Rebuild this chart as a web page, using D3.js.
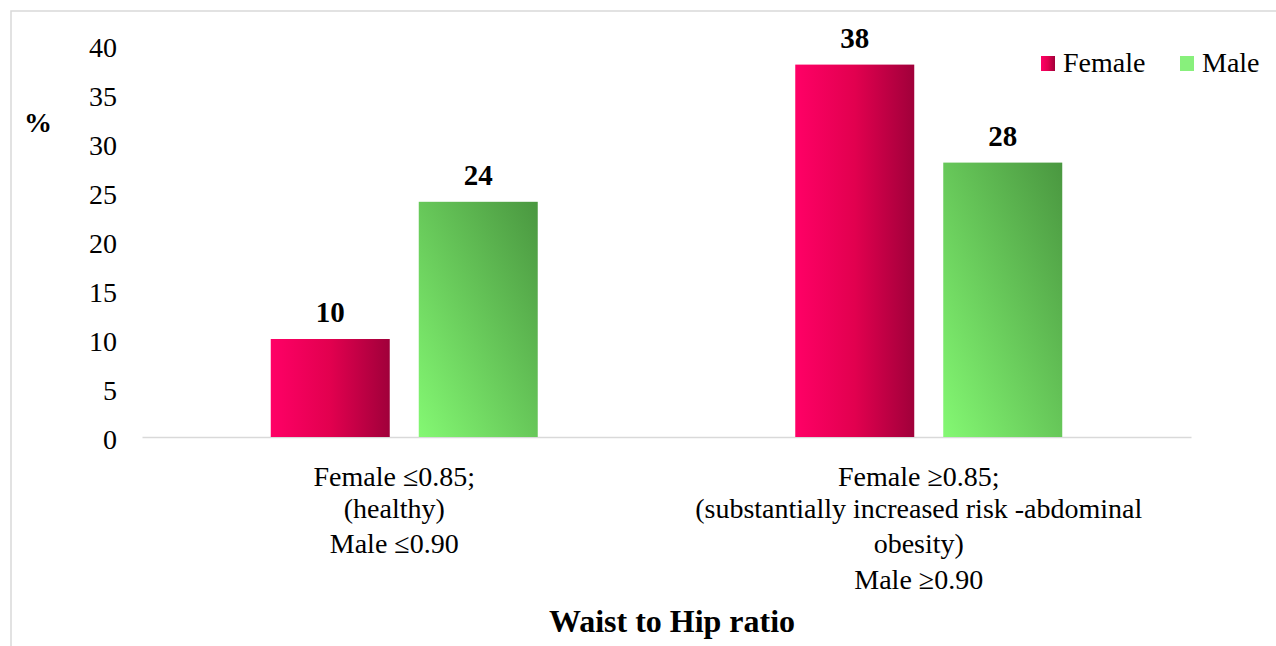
<html><head>
  <script src="https://d3js.org/d3.v7.min.js"></script>
  <style>
    body { margin: 0; background: white; }
    text { font-family: 'Liberation Serif', 'Times New Roman', serif; fill: black; }
    .axis path, .axis line { stroke: #d9d9d9; stroke-width: 1.5; }
    .axis text { font-size: 28px; }
  </style>
</head>
<body>
  <script>
    // data
    const categories = ["healthy", "risk"];
    const categoryLabels = [
      ["Female \u22640.85;", "(healthy)", "Male \u22640.90"],
      ["Female \u22650.85;", "(substantially increased risk -abdominal", "obesity)", "Male \u22650.90"]
    ];
    const series = ["Female", "Male"];
    const femaleValues = [10, 38];
    const maleValues = [24, 28];
    const yTicks = [0, 5, 10, 15, 20, 25, 30, 35, 40];

    const width = 1276, height = 646;
    const svg = d3.select("body").append("svg")
                  .attr("width", width)
                  .attr("height", height);

    // gradients
    const defs = svg.append("defs");
    const gf = defs.append("linearGradient").attr("id", "gradFemale")
                   .attr("x1", 0).attr("y1", 0).attr("x2", 1).attr("y2", 0);
    gf.append("stop").attr("offset", 0).attr("stop-color", "#ff0066");
    gf.append("stop").attr("offset", 0.5).attr("stop-color", "#e2004f");
    gf.append("stop").attr("offset", 1).attr("stop-color", "#a0003a");
    const gm = defs.append("linearGradient").attr("id", "gradMale")
                   .attr("x1", 0).attr("y1", 1).attr("x2", 1).attr("y2", 0);
    gm.append("stop").attr("offset", 0).attr("stop-color", "#84f873");
    gm.append("stop").attr("offset", 1).attr("stop-color", "#4a9740");
    const fills = {Female: "url(#gradFemale)", Male: "url(#gradMale)"};
    const legendFills = {Female: "url(#gradFemale)", Male: "#88f07c"};

    // outer frame
    svg.append("rect").attr("x", 11).attr("y", 11)
       .attr("width", width + 20).attr("height", height + 20)
       .attr("fill", "none").attr("stroke", "#d9d9d9").attr("stroke-width", 1.5);

    // scales
    const x0 = d3.scaleBand().domain(categories).range([142, 1191]);
    const x1 = d3.scaleBand().domain(series).range([0, x0.bandwidth()])
                 .paddingInner(0.196).paddingOuter(0.87);
    const y = d3.scaleLinear().domain([0, 40]).range([437, 45]);

    // y axis (labels only)
    svg.append("g").attr("class", "axis y")
       .attr("transform", "translate(125,0)")
       .call(d3.axisLeft(y).tickValues(yTicks).tickSize(0).tickPadding(8))
       .call(g => g.select(".domain").remove())
       .selectAll("text").attr("dy", "0.4em");

    // x axis
    const xAxis = svg.append("g").attr("class", "axis x")
       .attr("transform", "translate(0,437)")
       .call(d3.axisBottom(x0).tickSize(0).tickSizeOuter(0).tickFormat(""));
    const lineOffsets = [49, 81, 116, 152];
    xAxis.selectAll(".tick text").each(function(d, i) {
      const t = d3.select(this).attr("y", 0).attr("dy", null).attr("x", -10);
      t.selectAll("tspan").data(categoryLabels[i]).join("tspan")
       .attr("x", -10)
       .attr("y", (s, j) => lineOffsets[j])
       .text(s => s);
    });

    // bars
    const rows = categories.map((c, i) => ({cat: c, values: [
      {key: "Female", value: femaleValues[i]},
      {key: "Male", value: maleValues[i]}
    ]}));
    const groups = svg.append("g").selectAll("g").data(rows).join("g")
       .attr("transform", d => `translate(${x0(d.cat)},0)`);
    groups.selectAll("rect").data(d => d.values).join("rect")
       .attr("x", d => x1(d.key))
       .attr("y", d => y(d.value))
       .attr("width", x1.bandwidth())
       .attr("height", d => y(0) - y(d.value))
       .attr("fill", d => fills[d.key]);
    groups.selectAll("text").data(d => d.values).join("text")
       .attr("x", d => x1(d.key) + x1.bandwidth() / 2)
       .attr("y", d => y(d.value) - 17)
       .attr("text-anchor", "middle")
       .style("font-size", "29px").style("font-weight", "bold")
       .text(d => d.value);

    // y title
    svg.append("text").attr("x", 38).attr("y", 132)
       .attr("text-anchor", "middle")
       .style("font-size", "28px").style("font-weight", "bold")
       .text("%");

    // x title
    svg.append("text").attr("x", 672).attr("y", 632)
       .attr("text-anchor", "middle")
       .style("font-size", "32px").style("font-weight", "bold")
       .text("Waist to Hip ratio");

    // legend
    const legendX = [1041, 1180];
    const legend = svg.append("g").selectAll("g").data(series).join("g")
       .attr("transform", (d, i) => `translate(${legendX[i]},56)`);
    legend.append("rect").attr("width", 14).attr("height", 15)
       .attr("fill", d => legendFills[d]);
    legend.append("text").attr("x", 22).attr("y", 16)
       .style("font-size", "28px").text(d => d);
  </script>
</body>
</html>
